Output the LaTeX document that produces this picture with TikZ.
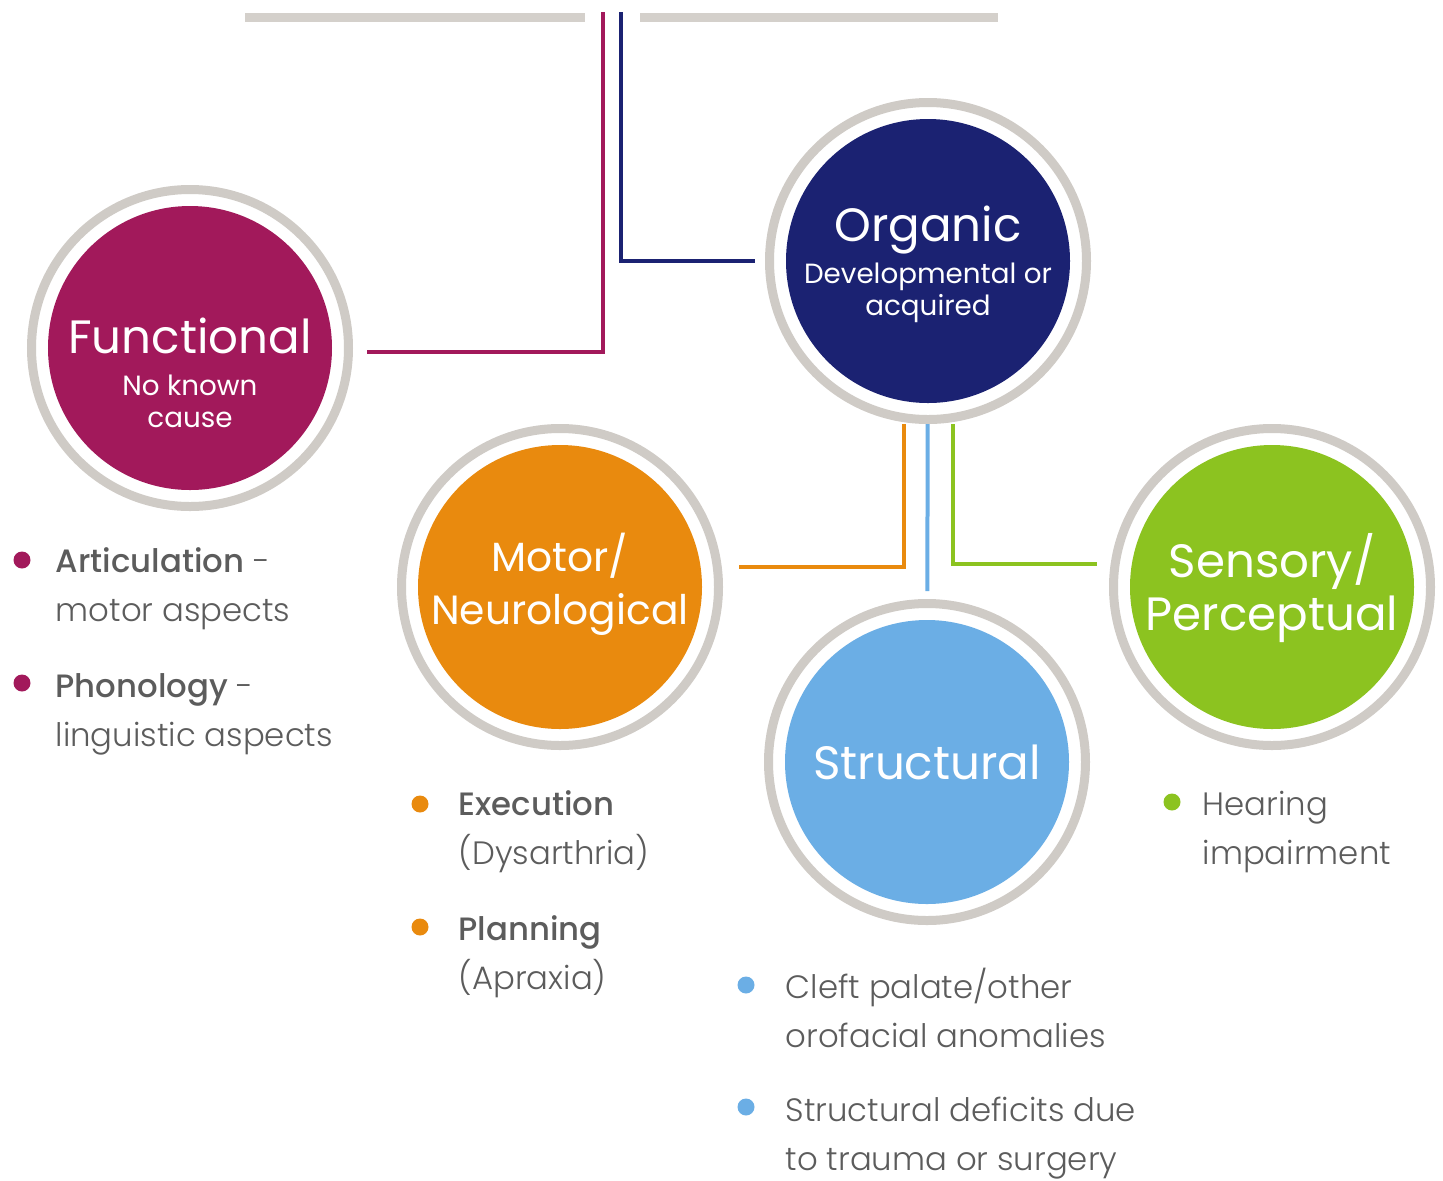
\documentclass[tikz,border=0pt]{standalone}
\usepackage{fontspec}
\setmainfont{Poppins}[BoldFont={* Medium}]
\newfontfamily\lightfont{Poppins Light}[BoldFont={Poppins Medium}]
\usetikzlibrary{positioning}

\definecolor{funcol}{HTML}{A2195B}
\definecolor{orgcol}{HTML}{1B2272}
\definecolor{motcol}{HTML}{E98A0E}
\definecolor{strcol}{HTML}{6BAEE5}
\definecolor{sencol}{HTML}{8CC320}
\definecolor{ringgray}{HTML}{CFCBC6}
\definecolor{bargray}{HTML}{D4D0CB}
\definecolor{textgray}{HTML}{5C5C5C}

\newcommand\subsize{\fontsize{7.9}{9.1}\selectfont}

\tikzset{
  catring/.style={circle, draw=ringgray, line width=0.09cm, fill=white,
    minimum size=3.17cm, inner sep=0pt,
    path picture={\fill[#1] (path picture bounding box.center) circle (1.42cm);}},
  cattext/.style={text=white, align=center, inner sep=0pt,
    font=\fontsize{13.3}{15}\selectfont},
  bullet/.style={circle, inner sep=0pt, minimum size=0.17cm},
  entry/.style={text=textgray, align=left, anchor=base west, inner sep=0pt,
    font=\lightfont\fontsize{9.2}{13.9}\selectfont},
  link/.style={line width=0.04cm},
  bar/.style={draw=bargray, line width=0.09cm}
}

\begin{document}
\begin{tikzpicture}
  \useasboundingbox (0,0) rectangle (14.43,-11.80);

  % top bars
  \draw[bar] (2.45,-0.17) -- (5.85,-0.17);
  \draw[bar] (6.40,-0.17) -- (9.98,-0.17);

  % circles
  \node[catring=funcol] (fun) at (1.90,-3.48) {};
  \node[catring=orgcol] (org) at (9.28,-2.61) {};
  \node[catring=motcol] (mot) at (5.60,-5.87) {};
  \node[catring=strcol] (str) at (9.27,-7.62) {};
  \node[catring=sencol] (sen) at (12.72,-5.87) {};

  \node[cattext] (funT) at (1.90,-3.73) {Functional\\[-3pt]\subsize No known\\[-5.9pt]\subsize cause};
  \node[cattext] (orgT) at (9.28,-2.64) {Organic\\[-3pt]\subsize Developmental or\\[-5.9pt]\subsize acquired};
  \node[cattext, font=\fontsize{11.6}{15}\selectfont] (motT) at (5.60,-5.84) {Motor/\\Neurological};
  \node[cattext] (strT) at (9.27,-7.62) {Structural};
  \node[cattext] (senT) at (12.72,-5.88) {Sensory/\\Perceptual};

  % connectors
  \coordinate (funTop) at (6.03,-0.12);
  \coordinate (orgTop) at (6.21,-0.12);
  \draw[link, draw=funcol, shorten >=0.14cm] (funTop) |- ([yshift=-0.04cm]fun.east);
  \draw[link, draw=orgcol, shorten >=0.10cm] (orgTop) |- (org);
  \draw[link, draw=motcol, shorten >=0.16cm] ([xshift=-0.24cm]org.south) |- ([yshift=0.20cm]mot.east);
  \draw[link, draw=strcol, shorten >=0.08cm] (org) -- (str);
  \draw[link, draw=sencol, shorten >=0.12cm] ([xshift=0.25cm]org.south) |- ([yshift=0.23cm]sen.west);

  % bullet lists
  \node[bullet, fill=funcol] (artB) at (0.22,-5.60) {};
  \node[entry] (art) at (0.55,-6.21) {\textbf{Articulation} -\\motor aspects};
  \node[bullet, fill=funcol] (phoB) at (0.22,-6.83) {};
  \node[entry] (pho) at (0.55,-7.46) {\textbf{Phonology} -\\linguistic aspects};

  \node[bullet, fill=motcol] (exeB) at (4.20,-8.04) {};
  \node[entry] (exe) at (4.58,-8.64) {\textbf{Execution}\\(Dysarthria)};
  \node[bullet, fill=motcol] (plaB) at (4.20,-9.27) {};
  \node[entry] (pla) at (4.58,-9.89) {\textbf{Planning}\\(Apraxia)};

  \node[bullet, fill=strcol] (clfB) at (7.46,-9.85) {};
  \node[entry] (clf) at (7.85,-10.47) {Cleft palate/other\\orofacial anomalies};
  \node[bullet, fill=strcol] (defB) at (7.46,-11.07) {};
  \node[entry] (def) at (7.85,-11.70) {Structural deficits due\\to trauma or surgery};

  \node[bullet, fill=sencol] (heaB) at (11.72,-8.02) {};
  \node[entry] (hea) at (12.02,-8.64) {Hearing\\impairment};
\end{tikzpicture}
\end{document}
